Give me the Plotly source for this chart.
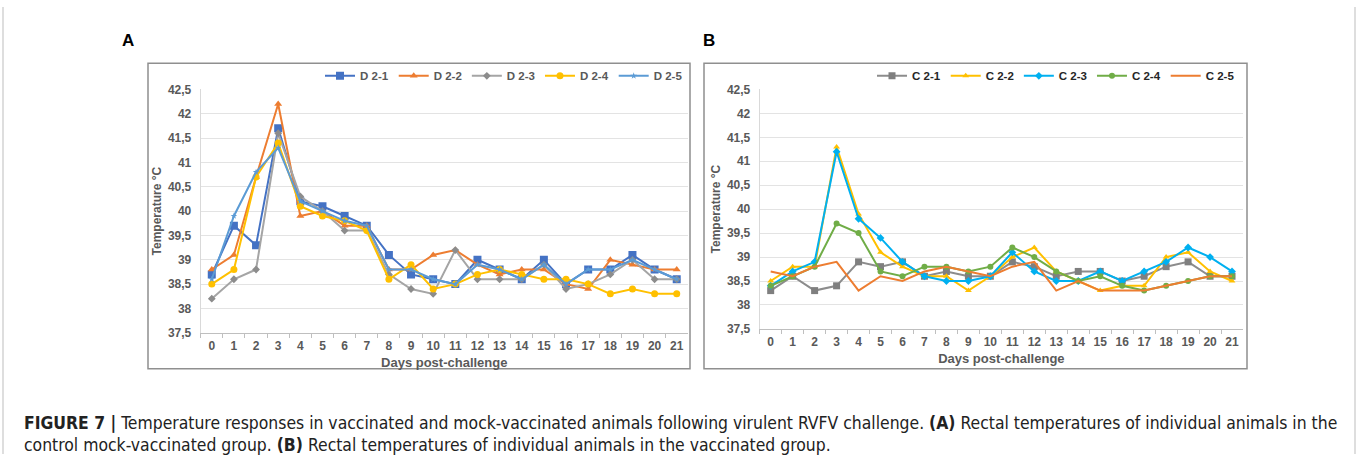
import plotly.graph_objects as go

W, H = 1358, 461

days = [str(d) for d in range(22)]

# Panel A (mock-vaccinated controls)
names_a = ["D 2-1", "D 2-2", "D 2-3", "D 2-4", "D 2-5"]
d21 = [38.7, 39.7, 39.3, 41.7, 40.2, 40.1, 39.9, 39.7, 39.1, 38.7, 38.6, 38.5, 39.0, 38.8, 38.6, 39.0, 38.5, 38.8, 38.8, 39.1, 38.8, 38.6]
d22 = [38.8, 39.1, 40.7, 42.2, 39.9, 40.0, 39.7, 39.7, 38.8, 38.8, 39.1, 39.2, 38.9, 38.7, 38.8, 38.8, 38.5, 38.4, 39.0, 38.9, 38.8, 38.8]
d23 = [38.2, 38.6, 38.8, 41.6, 40.3, 40.0, 39.6, 39.6, 38.7, 38.4, 38.3, 39.2, 38.6, 38.6, 38.6, 38.9, 38.4, 38.5, 38.7, 39.0, 38.6, 38.6]
d24 = [38.5, 38.8, 40.7, 41.4, 40.1, 39.9, 39.8, 39.6, 38.6, 38.9, 38.4, 38.5, 38.7, 38.8, 38.7, 38.6, 38.6, 38.5, 38.3, 38.4, 38.3, 38.3]
d25 = [38.6, 39.9, 40.8, 41.3, 40.2, 40.0, 39.8, 39.7, 38.8, 38.8, 38.6, 38.5, 38.9, 38.8, 38.6, 38.9, 38.5, 38.8, 38.8, 39.0, 38.8, 38.6]

# Panel B (vaccinated)
names_b = ["C 2-1", "C 2-2", "C 2-3", "C 2-4", "C 2-5"]
c21 = [38.3, 38.6, 38.3, 38.4, 38.9, 38.8, 38.9, 38.6, 38.7, 38.6, 38.6, 38.9, 38.8, 38.6, 38.7, 38.7, 38.5, 38.6, 38.8, 38.9, 38.6, 38.6]
c22 = [38.5, 38.8, 38.8, 41.3, 39.9, 39.1, 38.8, 38.6, 38.6, 38.3, 38.6, 39.0, 39.2, 38.7, 38.5, 38.3, 38.4, 38.4, 39.0, 39.1, 38.7, 38.5]
c23 = [38.4, 38.7, 38.9, 41.2, 39.8, 39.4, 38.9, 38.6, 38.5, 38.5, 38.6, 39.1, 38.7, 38.5, 38.5, 38.7, 38.5, 38.7, 38.9, 39.2, 39.0, 38.7]
c24 = [38.4, 38.6, 38.8, 39.7, 39.5, 38.7, 38.6, 38.8, 38.8, 38.7, 38.8, 39.2, 39.0, 38.7, 38.5, 38.6, 38.4, 38.3, 38.4, 38.5, 38.6, 38.6]
c25 = [38.7, 38.6, 38.8, 38.9, 38.3, 38.6, 38.5, 38.7, 38.8, 38.7, 38.6, 38.8, 38.9, 38.3, 38.5, 38.3, 38.3, 38.3, 38.4, 38.5, 38.6, 38.6]

y_ticks = [37.5, 38, 38.5, 39, 39.5, 40, 40.5, 41, 41.5, 42, 42.5]
y_ticktext = ["37,5", "38", "38,5", "39", "39,5", "40", "40,5", "41", "41,5", "42", "42,5"]

colors_a = ["#4472C4", "#ED7D31", "#8C8C8C", "#FFC000", "#5B9BD5"]
lines_a = ["#4472C4", "#ED7D31", "#A5A5A5", "#FFC000", "#5B9BD5"]
symbols_a = ["square", "triangle-up", "diamond", "circle", "star"]
sizes_a = [8, 7, 6, 7, 5]

colors_b = ["#7F7F7F", "#FFC000", "#00B0F0", "#70AD47", "#ED7D31"]
lines_b = ["#8C8C8C", "#FFC000", "#00B0F0", "#70AD47", "#ED7D31"]
symbols_b = ["square", "triangle-up", "diamond", "circle", None]
sizes_b = [7, 6, 6, 6, 0]

FONT = "Liberation Sans"
CAP_FONT = "DejaVu Sans Condensed, Liberation Sans"
GREY_TXT = "#595959"

fig = go.Figure()
for name, ys, c, lc, s, sz in zip(names_a, [d21, d22, d23, d24, d25], colors_a, lines_a, symbols_a, sizes_a):
    fig.add_trace(go.Scatter(x=days, y=ys, name=name, mode="lines+markers",
                             line=dict(color=lc, width=2),
                             marker=dict(symbol=s, size=sz, color=c),
                             xaxis="x", yaxis="y", legend="legend"))
for name, ys, c, lc, s, sz in zip(names_b, [c21, c22, c23, c24, c25], colors_b, lines_b, symbols_b, sizes_b):
    fig.add_trace(go.Scatter(x=days, y=ys, name=name,
                             mode="lines+markers" if s else "lines",
                             line=dict(color=lc, width=2),
                             marker=dict(symbol=s if s else "circle", size=sz, color=c),
                             xaxis="x2", yaxis="y2", legend="legend2"))

def px(x):
    return x / W

def py(y):
    return 1 - y / H

xa_common = dict(type="category", categoryorder="array", categoryarray=days,
                 range=[-0.5, 21.5], tickson="boundaries", ticks="outside", ticklen=4,
                 tickcolor="#BFBFBF", showgrid=False, showline=True, linecolor="#BFBFBF",
                 linewidth=1, zeroline=False, tickangle=0, ticklabelstandoff=2,
                 tickfont=dict(family=FONT, size=12, color=GREY_TXT, weight="bold"),
                 title=dict(text="Days post-challenge", standoff=5,
                            font=dict(family=FONT, size=13, color=GREY_TXT, weight="bold")))
ya_common = dict(range=[37.5, 42.5], tickvals=y_ticks, ticktext=y_ticktext,
                 showgrid=True, gridcolor="#E3E3E3", gridwidth=1, zeroline=False,
                 showline=True, linecolor="#D9D9D9", ticks="", ticklabelstandoff=6,
                 tickfont=dict(family=FONT, size=12, color=GREY_TXT, weight="bold"),
                 title=dict(text="Temperature °C", standoff=3,
                            font=dict(family=FONT, size=12, color=GREY_TXT, weight="bold")))

fig.update_layout(
    width=W, height=H, margin=dict(l=0, r=0, t=0, b=0),
    paper_bgcolor="white", plot_bgcolor="white", showlegend=True,
    xaxis=dict(domain=[px(200.7), px(687.8)], anchor="y", **xa_common),
    yaxis=dict(domain=[py(336), py(85)], anchor="x", **ya_common),
    xaxis2=dict(domain=[px(759.7), px(1243)], anchor="y2", **xa_common),
    yaxis2=dict(domain=[py(332), py(85)], anchor="x2", **ya_common),
    legend=dict(orientation="h", x=px(688), xanchor="right", y=py(71), yanchor="middle",
                bgcolor="rgba(0,0,0,0)", itemwidth=30, tracegroupgap=0,
                font=dict(family=FONT, size=11.5, color=GREY_TXT, weight="bold")),
    legend2=dict(orientation="h", x=px(1240), xanchor="right", y=py(71), yanchor="middle",
                 bgcolor="rgba(0,0,0,0)", itemwidth=30, tracegroupgap=0,
                 font=dict(family=FONT, size=11.5, color="#262626", weight="bold")),
)

shapes = [
    dict(type="rect", xref="paper", yref="paper", x0=px(148), x1=px(690), y0=py(373), y1=py(58),
         line=dict(color="#8F8F8F", width=1.5), fillcolor="rgba(0,0,0,0)", layer="below"),
    dict(type="rect", xref="paper", yref="paper", x0=px(704), x1=px(1247), y0=py(373), y1=py(58),
         line=dict(color="#8F8F8F", width=1.5), fillcolor="rgba(0,0,0,0)", layer="below"),
    dict(type="line", xref="paper", yref="paper", x0=px(3), x1=px(3), y0=0, y1=1,
         line=dict(color="#BDBDBD", width=1)),
    dict(type="line", xref="paper", yref="paper", x0=px(1355), x1=px(1355), y0=0, y1=1,
         line=dict(color="#BDBDBD", width=1)),
]
fig.update_layout(shapes=shapes)

caption1 = ("<b>FIGURE 7 |</b> Temperature responses in vaccinated and mock-vaccinated animals "
            "following virulent RVFV challenge. <b>(A)</b> Rectal temperatures of individual animals in the")
caption2 = "control mock-vaccinated group. <b>(B)</b> Rectal temperatures of individual animals in the vaccinated group."

annotations = [
    dict(text="<b>A</b>", x=px(128), y=py(35), xref="paper", yref="paper", showarrow=False,
         xanchor="center", yanchor="middle",
         font=dict(family=FONT, size=17, color="black")),
    dict(text="<b>B</b>", x=px(709), y=py(35), xref="paper", yref="paper", showarrow=False,
         xanchor="center", yanchor="middle",
         font=dict(family=FONT, size=17, color="black")),
    dict(text=caption1, x=px(22), y=py(429), xref="paper", yref="paper", xanchor="left",
         yanchor="middle", showarrow=False,
         font=dict(family=CAP_FONT, size=17.4, color="#222222")),
    dict(text=caption2, x=px(22), y=py(452), xref="paper", yref="paper", xanchor="left",
         yanchor="middle", showarrow=False,
         font=dict(family=CAP_FONT, size=17.4, color="#222222")),
]
fig.update_layout(annotations=annotations)

fig.write_html("out.html")
